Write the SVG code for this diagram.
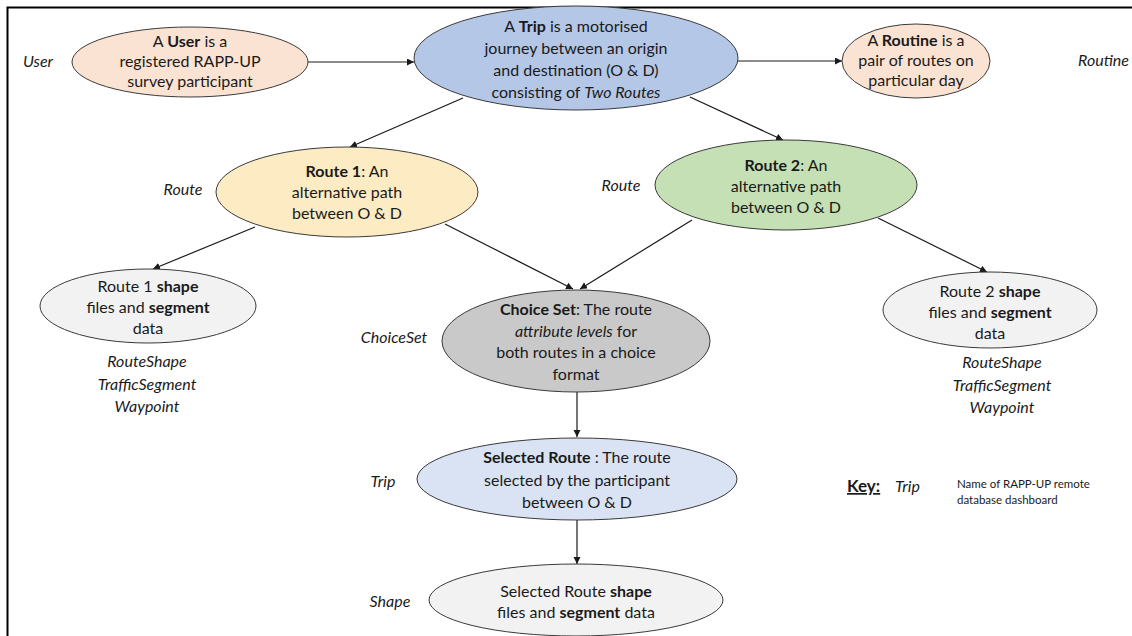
<svg xmlns="http://www.w3.org/2000/svg" width="1132" height="636" viewBox="0 0 1132 636">
  <style>
    .node ellipse { stroke: #3a3a3a; stroke-width: 1; }
    .t { font-family: Lato, "Liberation Sans", sans-serif; font-size: 16px; fill: #1a1a1a; text-anchor: middle; }
    .b { font-weight: bold; }
    .i { font-style: italic; }
    .lbl { font-family: Lato, "Liberation Sans", sans-serif; font-size: 16px; font-style: italic; fill: #1a1a1a; text-anchor: middle; }
    .lbl.end { text-anchor: end; }
    .conn line { stroke: #1a1a1a; stroke-width: 1.2; marker-end: url(#arrow); }
    .key { font-family: Lato, "Liberation Sans", sans-serif; fill: #1a1a1a; }
  </style>
  <defs>
    <marker id="arrow" markerUnits="userSpaceOnUse" markerWidth="8" markerHeight="8" refX="7" refY="3.5" orient="auto">
      <path d="M0,0 L7,3.5 L0,7 z" fill="#1a1a1a"/>
    </marker>
  </defs>

  <rect width="1132" height="636" fill="#ffffff"/>
  <!-- outer frame (top and left edges visible) -->
  <rect x="7.5" y="7.5" width="1140" height="650" fill="none" stroke="#000" stroke-width="2"/>

  <g id="connectors" class="conn">
    <line x1="308" y1="62" x2="414" y2="62"/>
    <line x1="738" y1="61" x2="842" y2="61"/>
    <line x1="463" y1="98" x2="350" y2="147"/>
    <line x1="690" y1="97" x2="783" y2="140"/>
    <line x1="255" y1="227" x2="153" y2="269"/>
    <line x1="445" y1="224" x2="573" y2="289"/>
    <line x1="692" y1="220" x2="580" y2="289"/>
    <line x1="878" y1="218" x2="987" y2="272"/>
    <line x1="577" y1="392" x2="577" y2="437"/>
    <line x1="577" y1="520" x2="577" y2="564"/>
  </g>

  <g id="user" class="node">
    <ellipse cx="190" cy="62" rx="118" ry="35" fill="#FBE3D3"/>
    <text class="t" x="190" y="47">A <tspan class="b">User</tspan> is a</text>
    <text class="t" x="190" y="67">registered RAPP-UP</text>
    <text class="t" x="190" y="87">survey participant</text>
    <text class="lbl" x="38" y="67">User</text>
  </g>

  <g id="trip" class="node">
    <ellipse cx="576" cy="58" rx="162" ry="52" fill="#B4C7E7"/>
    <text class="t" x="576" y="32">A <tspan class="b">Trip</tspan> is a motorised</text>
    <text class="t" x="576" y="54">journey between an origin</text>
    <text class="t" x="576" y="76">and destination (O &amp; D)</text>
    <text class="t" x="576" y="98">consisting of <tspan class="i">Two Routes</tspan></text>
  </g>

  <g id="routine" class="node">
    <ellipse cx="916" cy="61" rx="74" ry="37" fill="#FBE3D3"/>
    <text class="t" x="916" y="46">A <tspan class="b">Routine</tspan> is a</text>
    <text class="t" x="916" y="66">pair of routes on</text>
    <text class="t" x="916" y="86">particular day</text>
    <text class="lbl end" x="1129" y="66">Routine</text>
  </g>

  <g id="route1" class="node">
    <ellipse cx="347" cy="192" rx="131" ry="45" fill="#FCEBC3"/>
    <text class="t" x="347" y="177"><tspan class="b">Route 1</tspan>: An</text>
    <text class="t" x="347" y="198">alternative path</text>
    <text class="t" x="347" y="219">between O &amp; D</text>
    <text class="lbl" x="183" y="195">Route</text>
  </g>

  <g id="route2" class="node">
    <ellipse cx="786" cy="185" rx="131" ry="45" fill="#C5E0B4"/>
    <text class="t" x="786" y="171"><tspan class="b">Route 2</tspan>: An</text>
    <text class="t" x="786" y="192">alternative path</text>
    <text class="t" x="786" y="213">between O &amp; D</text>
    <text class="lbl" x="621" y="191">Route</text>
  </g>

  <g id="route1-shape" class="node">
    <ellipse cx="148" cy="306" rx="108" ry="37" fill="#F2F2F2"/>
    <text class="t" x="148" y="292">Route 1 <tspan class="b">shape</tspan></text>
    <text class="t" x="148" y="313">files and <tspan class="b">segment</tspan></text>
    <text class="t" x="148" y="334">data</text>
    <text class="lbl" x="147" y="367">RouteShape</text>
    <text class="lbl" x="147" y="390">TrafficSegment</text>
    <text class="lbl" x="147" y="412">Waypoint</text>
  </g>

  <g id="choice-set" class="node">
    <ellipse cx="576" cy="341" rx="134" ry="51" fill="#C9C9C9"/>
    <text class="t" x="576" y="315"><tspan class="b">Choice Set</tspan>: The route</text>
    <text class="t" x="576" y="337"><tspan class="i">attribute levels</tspan> for</text>
    <text class="t" x="576" y="358">both routes in a choice</text>
    <text class="t" x="576" y="380">format</text>
    <text class="lbl" x="394" y="343">ChoiceSet</text>
  </g>

  <g id="route2-shape" class="node">
    <ellipse cx="990" cy="310" rx="107" ry="38" fill="#F2F2F2"/>
    <text class="t" x="990" y="297">Route 2 <tspan class="b">shape</tspan></text>
    <text class="t" x="990" y="318">files and <tspan class="b">segment</tspan></text>
    <text class="t" x="990" y="339">data</text>
    <text class="lbl" x="1002" y="368">RouteShape</text>
    <text class="lbl" x="1002" y="391">TrafficSegment</text>
    <text class="lbl" x="1002" y="413">Waypoint</text>
  </g>

  <g id="selected-route" class="node">
    <ellipse cx="577" cy="479" rx="160" ry="41" fill="#DAE3F3"/>
    <text class="t" x="577" y="463"><tspan class="b">Selected Route</tspan> : The route</text>
    <text class="t" x="577" y="486">selected by the participant</text>
    <text class="t" x="577" y="508">between O &amp; D</text>
    <text class="lbl" x="383" y="487">Trip</text>
  </g>

  <g id="shape" class="node">
    <ellipse cx="576" cy="600" rx="147" ry="36" fill="#F2F2F2"/>
    <text class="t" x="576" y="597">Selected Route <tspan class="b">shape</tspan></text>
    <text class="t" x="576" y="618">files and <tspan class="b">segment</tspan> data</text>
    <text class="lbl" x="390" y="607">Shape</text>
  </g>

  <g id="key">
    <text class="key" x="847" y="492" font-size="17" font-weight="bold" text-decoration="underline">Key:</text>
    <text class="key" x="895" y="492" font-size="16" font-style="italic">Trip</text>
    <text class="key" x="957" y="488" font-size="11.5">Name of RAPP-UP remote</text>
    <text class="key" x="957" y="504" font-size="11.5">database dashboard</text>
  </g>
</svg>
